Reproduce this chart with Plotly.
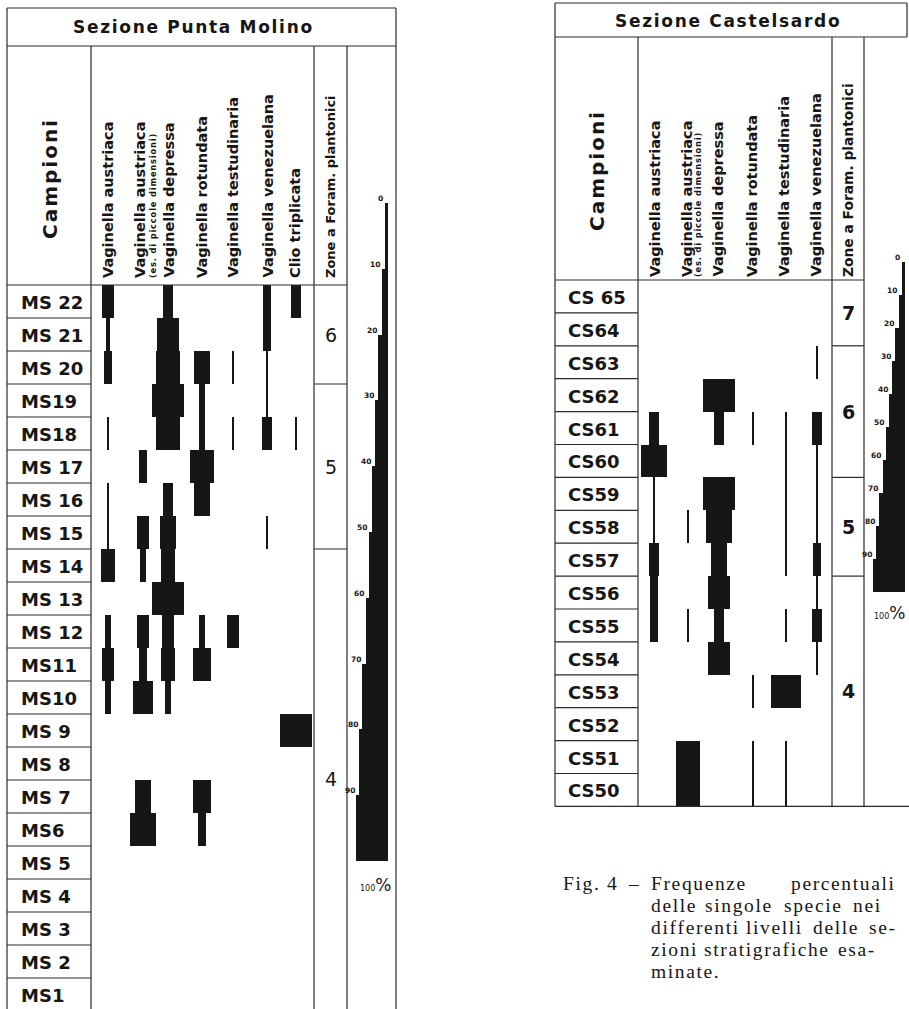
import plotly.graph_objects as go

# ============================ DATA ============================
# Sezione Punta Molino – samples top to bottom
MS_SAMPLES = ["MS 22", "MS 21", "MS 20", "MS19", "MS18", "MS 17", "MS 16", "MS 15",
              "MS 14", "MS 13", "MS 12", "MS11", "MS10", "MS 9", "MS 8", "MS 7",
              "MS6", "MS 5", "MS 4", "MS 3", "MS 2", "MS1"]
MS_SPECIES = ["Vaginella austriaca", "Vaginella austriaca", "Vaginella depressa",
              "Vaginella rotundata", "Vaginella testudinaria", "Vaginella venezuelana",
              "Clio triplicata"]
# percentage frequencies (bar width) per sample, MS 22 -> MS1
ms_austriaca       = [38, 13, 22, 0, 6, 0, 9, 9, 41, 0, 16, 38, 16, 0, 0, 0, 0, 0, 0, 0, 0, 0]
ms_austriaca_small = [0, 0, 0, 0, 0, 28, 0, 38, 16, 0, 38, 22, 63, 0, 0, 53, 81, 0, 0, 0, 0, 0]
ms_depressa        = [31, 69, 75, 100, 72, 0, 34, 53, 41, 100, 38, 44, 16, 0, 0, 0, 0, 0, 0, 0, 0, 0]
ms_rotundata       = [0, 0, 47, 16, 16, 78, 53, 0, 0, 0, 16, 59, 0, 0, 0, 56, 28, 0, 0, 0, 0, 0]
ms_testudinaria    = [0, 0, 6, 0, 6, 0, 0, 0, 0, 0, 38, 0, 0, 0, 0, 0, 0, 0, 0, 0, 0, 0]
ms_venezuelana     = [22, 22, 6, 6, 34, 0, 0, 6, 0, 0, 0, 0, 0, 0, 0, 0, 0, 0, 0, 0, 0, 0]
ms_clio            = [31, 0, 0, 0, 6, 0, 0, 0, 0, 0, 0, 0, 0, 100, 0, 0, 0, 0, 0, 0, 0, 0]
MS_ZONES = ["6", "5", "4"]
MS_ZONE_ROWS = [3, 5, 14]

# Sezione Castelsardo – samples top to bottom
CS_SAMPLES = ["CS 65", "CS64", "CS63", "CS62", "CS61", "CS60", "CS59", "CS58",
              "CS57", "CS56", "CS55", "CS54", "CS53", "CS52", "CS51", "CS50"]
CS_SPECIES = ["Vaginella austriaca", "Vaginella austriaca", "Vaginella depressa",
              "Vaginella rotundata", "Vaginella testudinaria", "Vaginella venezuelana"]
cs_austriaca       = [0, 0, 0, 0, 34, 81, 6, 6, 34, 25, 25, 0, 0, 0, 0, 0]
cs_austriaca_small = [0, 0, 0, 0, 0, 0, 0, 6, 0, 0, 6, 0, 0, 0, 78, 78]
cs_depressa        = [0, 0, 0, 100, 34, 0, 97, 81, 50, 69, 31, 69, 0, 0, 0, 0]
cs_rotundata       = [0, 0, 0, 0, 6, 0, 0, 0, 0, 0, 0, 0, 6, 0, 6, 6]
cs_testudinaria    = [0, 0, 0, 0, 6, 6, 9, 9, 6, 0, 6, 0, 94, 0, 9, 9]
cs_venezuelana     = [0, 0, 6, 0, 31, 6, 6, 6, 28, 6, 31, 6, 0, 0, 0, 0]
CS_ZONES = ["7", "6", "5", "4"]
CS_ZONE_ROWS = [2, 4, 3, 7]

SMALL_NOTE = "(es. di piccole dimensioni)"
ZONE_HEADER = "Zone a Foram. plantonici"
SCALE_TICKS = [0, 10, 20, 30, 40, 50, 60, 70, 80, 90]
SCALE_SEGMENT_PCT = [10, 20, 30, 40, 50, 60, 70, 80, 90, 100]

CAPTION_LINES = [
    ["Frequenze", "percentuali"],
    ["delle", "singole", "specie", "nei"],
    ["differenti", "livelli", "delle", "se-"],
    ["zioni", "stratigrafiche", "esa-"],
    ["minate."],
]

# ============================ LAYOUT / STYLE ============================
W, H = 909, 1009
INK = "#161616"
LINE = "#2a2a2a"
PX_PER_PCT = 0.32
SANS = "DejaVu Sans"
SERIF = "Liberation Serif"

LEFT = dict(title="Sezione Punta Molino", samples=MS_SAMPLES, species=MS_SPECIES,
            series=[ms_austriaca, ms_austriaca_small, ms_depressa, ms_rotundata,
                    ms_testudinaria, ms_venezuelana, ms_clio],
            zones=MS_ZONES, zone_rows=MS_ZONE_ROWS,
            x0=7, x1=396, top=8, title_b=46, head_b=285, row_h=33.0,
            div=[91, 314, 347], centers=[108, 143, 168, 202, 233, 267, 296],
            label_x=[108, 140, 168, 202, 232, 267, 295], note_dx=13,
            sample_x=20, title_xy=(192, 27), camp_xy=(50, 180), spec_bottom=279,
            zone_head_size=13.0,
            wedge_right=388, wedge_top=203, wedge_step=65.8, pct_xy=(375, 885),
            right_full=True, bottom_line=False, zone_bold=False)
RIGHT = dict(title="Sezione Castelsardo", samples=CS_SAMPLES, species=CS_SPECIES,
             series=[cs_austriaca, cs_austriaca_small, cs_depressa, cs_rotundata,
                     cs_testudinaria, cs_venezuelana],
             zones=CS_ZONES, zone_rows=CS_ZONE_ROWS,
             x0=555, x1=907, top=3, title_b=37, head_b=280, row_h=32.9,
             div=[638, 832, 864], centers=[654, 688, 719, 753, 786, 817],
             label_x=[655, 687, 717, 752, 783, 815], note_dx=11,
             sample_x=567, title_xy=(727, 21), camp_xy=(597, 172), spec_bottom=278,
             zone_head_size=13.8,
             wedge_right=905, wedge_top=262, wedge_step=33.0, pct_xy=(889, 613),
             right_full=False, bottom_line=True, zone_bold=True)


def track(s, sep="\u200a"):
    return sep.join(list(s))


fig = go.Figure()
shapes = []
annotations = []


def hline(x0, x1, y, w=1.2):
    shapes.append(dict(type="line", xref="x", yref="y", x0=x0, x1=x1, y0=y, y1=y,
                       line=dict(color=LINE, width=w)))


def vline(x, y0, y1, w=1.2):
    shapes.append(dict(type="line", xref="x", yref="y", x0=x, x1=x, y0=y0, y1=y1,
                       line=dict(color=LINE, width=w)))


def text(x, y, s, size, bold=False, family=SANS, angle=0, xanchor="center",
         yanchor="middle", color=INK):
    annotations.append(dict(x=x, y=y, xref="x", yref="y", text=s, showarrow=False,
                            textangle=angle, xanchor=xanchor, yanchor=yanchor,
                            font=dict(family=family, size=size, color=color,
                                      weight="bold" if bold else "normal"),
                            borderpad=0))


def panel(P):
    n = len(P["samples"])
    rh = P["row_h"]
    bottom = P["head_b"] + n * rh
    d0, d1, d2 = P["div"]
    # frame
    hline(P["x0"], P["x1"], P["top"])
    hline(P["x0"], P["x1"], P["title_b"])
    vline(P["x0"], P["top"], bottom)
    if P["right_full"]:
        vline(P["x1"], P["top"], bottom)
    else:
        vline(P["x1"], P["top"], P["title_b"])
    for d in P["div"]:
        vline(d, P["title_b"], bottom)
    hline(P["x0"], d2, P["head_b"])
    if P["bottom_line"]:
        hline(P["x0"], W, bottom)
    # sample rows
    for i, s in enumerate(P["samples"]):
        yt = P["head_b"] + i * rh
        if i > 0:
            hline(P["x0"], d0, yt)
        text(P["sample_x"], yt + rh / 2 + 1, s, 18, bold=True, xanchor="left")
    # zones
    r = 0
    for z, k in zip(P["zones"], P["zone_rows"]):
        y0 = P["head_b"] + r * rh
        y1 = P["head_b"] + (r + k) * rh
        if r > 0:
            hline(d1, d2, y0)
        yc = (y0 + min(y1, H)) / 2
        text((d1 + d2) / 2, yc, z, 19, bold=P["zone_bold"])
        r += k
    # headers
    text(P["title_xy"][0], P["title_xy"][1], track(P["title"]), 17, bold=True)
    text(P["camp_xy"][0], P["camp_xy"][1], track("Campioni"), 20,
         bold=True, angle=-90)
    for j, name in enumerate(P["species"]):
        text(P["label_x"][j], P["spec_bottom"], name, 14.5, bold=True, angle=-90,
             yanchor="bottom")
    text(P["label_x"][1] + P["note_dx"], P["spec_bottom"], track(SMALL_NOTE), 8.3,
         bold=True, angle=-90, yanchor="bottom")
    text((d1 + d2) / 2, P["spec_bottom"], ZONE_HEADER, P["zone_head_size"], bold=True,
         angle=-90, yanchor="bottom")
    # species frequency bars
    for j, vals in enumerate(P["series"]):
        xs, bases, hs, ws = [], [], [], []
        for i, v in enumerate(vals):
            if v > 0:
                xs.append(P["centers"][j])
                bases.append(P["head_b"] + i * rh)
                hs.append(rh)
                ws.append(v * PX_PER_PCT)
        if xs:
            fig.add_trace(go.Bar(x=xs, y=hs, base=bases, width=ws,
                                 marker=dict(color=INK, line=dict(width=0)),
                                 showlegend=False, hoverinfo="skip"))
    # percentage scale wedge
    xs, bases, hs, ws = [], [], [], []
    for k, pct in zip(SCALE_TICKS, SCALE_SEGMENT_PCT):
        w = pct * PX_PER_PCT
        xs.append(P["wedge_right"] - w / 2)
        bases.append(P["wedge_top"] + k / 10 * P["wedge_step"])
        hs.append(P["wedge_step"])
        ws.append(w)
        text(P["wedge_right"] - w - 0.5, P["wedge_top"] + k / 10 * P["wedge_step"] + 1,
             str(k), 7.5, bold=True, xanchor="right", yanchor="bottom")
    fig.add_trace(go.Bar(x=xs, y=hs, base=bases, width=ws,
                         marker=dict(color=INK, line=dict(width=0)),
                         showlegend=False, hoverinfo="skip"))
    text(P["pct_xy"][0], P["pct_xy"][1],
         "<span style='font-size:8px'>100</span>%", 17)


panel(LEFT)
panel(RIGHT)

# caption
CAP = 19.5
text(562, 883, track("Fig. 4"), CAP, family=SERIF, xanchor="left")
text(627, 883, "\u2013", CAP, family=SERIF, xanchor="left")
word_x = [[650, 790], [650, 704, 783, 852], [650, 745, 812, 868], [650, 703, 837], [650]]
for li, (words, xs) in enumerate(zip(CAPTION_LINES, word_x)):
    for wd, x in zip(words, xs):
        text(x, 883 + li * 22, track(wd), CAP, family=SERIF, xanchor="left")

fig.update_layout(
    width=W, height=H, margin=dict(l=0, r=0, t=0, b=0),
    paper_bgcolor="white", plot_bgcolor="white",
    barmode="overlay", bargap=0,
    xaxis=dict(range=[0, W], visible=False, fixedrange=True),
    yaxis=dict(range=[H, 0], visible=False, fixedrange=True),
    shapes=shapes, annotations=annotations, showlegend=False,
)
fig.write_html("out.html", config={"displayModeBar": False},
               post_script="document.body.style.margin='0px';")
